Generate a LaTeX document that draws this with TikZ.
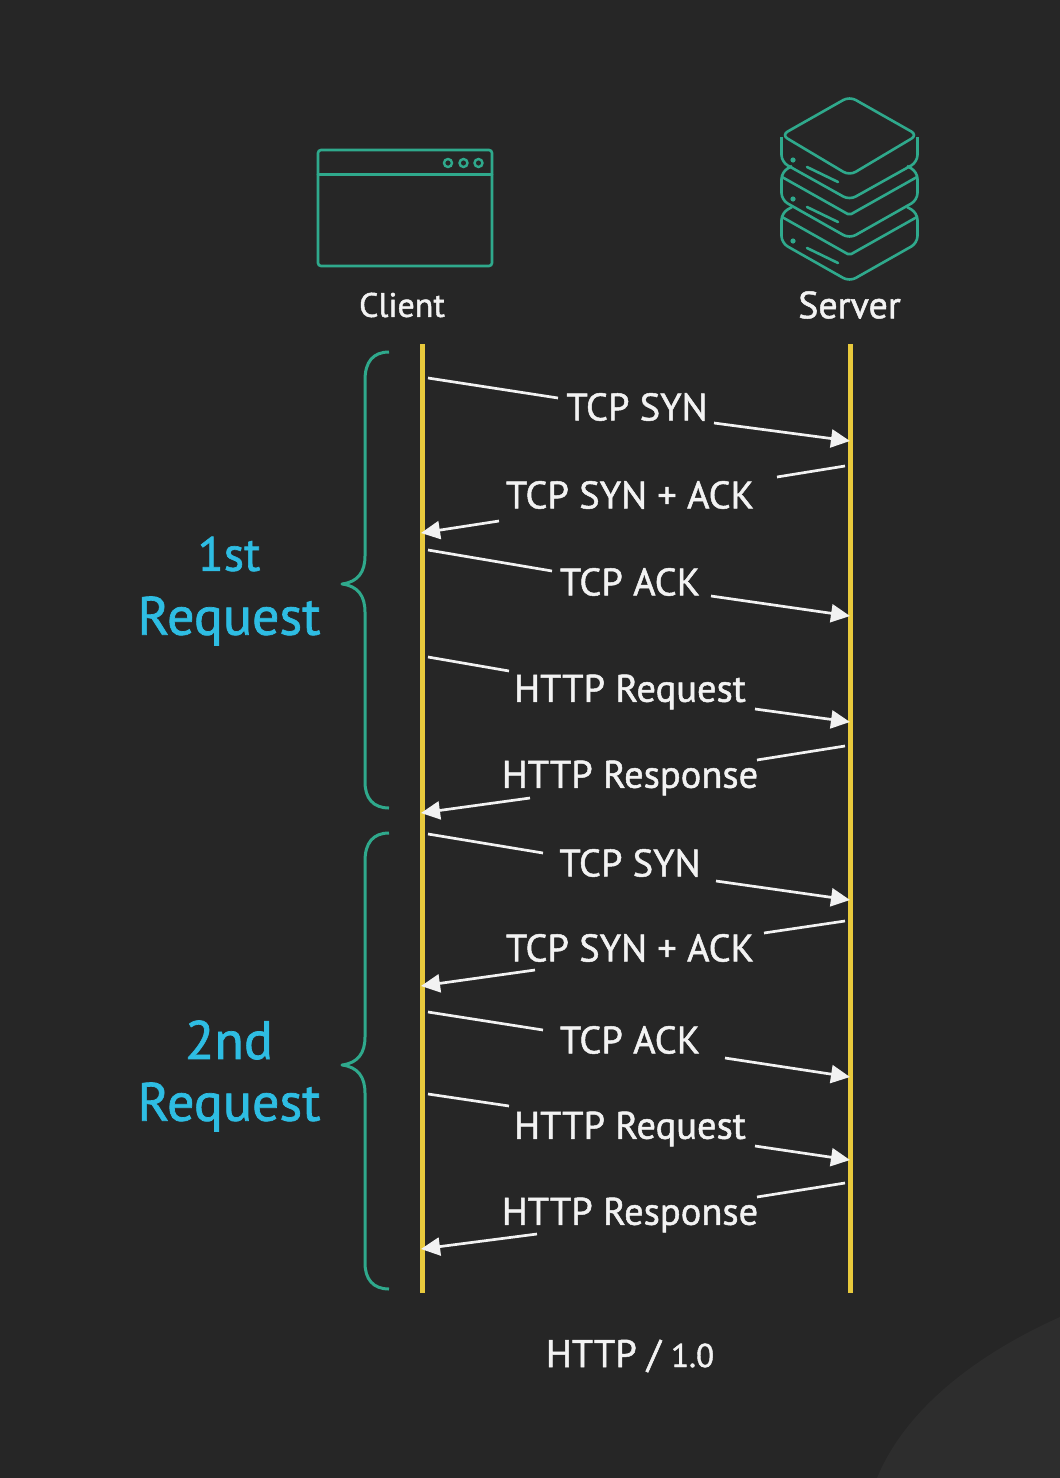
\documentclass[tikz,border=0pt]{standalone}
\usepackage{fontspec}
\setmainfont[FakeBold=1.3]{PT Sans}
\usetikzlibrary{arrows.meta}
\definecolor{bgc}{HTML}{262626}
\definecolor{blobc}{HTML}{2D2D2D}
\definecolor{teal1}{HTML}{2FA98C}
\definecolor{yellow1}{HTML}{E8C93C}
\definecolor{blue1}{HTML}{2EBDE3}
\definecolor{white1}{HTML}{F2F2F2}
\tikzset{
  icon/.style={draw=teal1,line width=2.6pt,rounded corners=3pt},
  iconfine/.style={draw=teal1,line width=2.6pt,line cap=round},
  lifeline/.style={draw=yellow1,line width=5pt},
  bracepath/.style={draw=teal1,line width=3pt,line join=round},
  msgline/.style={draw=white1,line width=2.7pt},
  msgarrow/.style={msgline,-{Triangle[length=19pt,width=18pt,fill=white1]}},
  msglabel/.style={text=white1,font=\fontsize{38.5}{38.5}\selectfont,inner sep=0pt},
  actor/.style={text=white1,font=\fontsize{34}{34}\selectfont,inner sep=0pt},
  reqlabel/.style={text=blue1,font=\fontsize{54}{54}\selectfont,inner sep=0pt},
}
\newcommand{\msgpair}[7]{%
  \node[msglabel] (l#1) at (#3) {#2};
  \coordinate (a#1) at (#4);
  \coordinate (b#1) at (#5);
  \coordinate (c#1) at (#6);
  \coordinate (d#1) at (#7);
  \draw[msgline] (a#1) -- (b#1);
  \draw[msgarrow] (c#1) -- (d#1);
}
\begin{document}
\begin{tikzpicture}[x=1pt,y=-1pt]
\useasboundingbox (0,0) rectangle (1060,1478);
\fill[bgc] (0,0) rectangle (1060,1478);
\fill[blobc] (877,1478) .. controls (905,1410) and (975,1355) .. (1060,1317) -- (1060,1478) -- cycle;

% client window
\draw[icon] (318,150) rectangle (492,266);
\draw[iconfine] (318,174.5) -- (492,174.5);
\draw[draw=teal1,line width=2.4pt] (448,163) circle (4pt) (463.5,163) circle (4pt) (478.5,163) circle (4pt);

% server stack
\begin{scope}[icon,rounded corners=7pt,fill=none]
\draw (849.5,96.5) -- (917.5,135) -- (849.5,175.5) -- (781.5,135) -- cycle;
\draw (781.5,137) -- (781.5,162) -- (849.5,200) -- (917.5,162) -- (917.5,137);
\draw (792,166) -- (781.5,172) -- (781.5,200) -- (849.5,238.5) -- (917.5,200) -- (917.5,172) -- (907,166);
\draw[rounded corners=2pt] (782,177) -- (849.5,215) -- (917,177);
\draw (792,207) -- (781.5,213) -- (781.5,243) -- (849.5,281.5) -- (917.5,243) -- (917.5,213) -- (907,207);
\draw[rounded corners=2pt] (782,217) -- (849.5,255) -- (917,217);
\end{scope}
\fill[teal1] (793,160) circle (2.6pt) (793,199) circle (2.6pt) (793,241) circle (2.6pt);
\draw[iconfine] (807,167) -- (838,182) (807,207) -- (838,222) (807,248) -- (838,263);

\node[actor] (client) at (402,305) {Client};
\node[actor,font=\fontsize{38}{38}\selectfont] (server) at (849.5,305) {Server};

% lifelines
\coordinate (ct) at (422,344); \coordinate (cb) at (422,1293);
\coordinate (st) at (850,344); \coordinate (sb) at (850,1293);
\draw[lifeline] (ct) -- (cb);
\draw[lifeline] (st) -- (sb);

% braces
\draw[bracepath] (389,352) .. controls (373,352) and (365,362) .. (365,380) -- (365,556) .. controls (365,572) and (358,582) .. (342,584) .. controls (358,586) and (365,596) .. (365,612) -- (365,782) .. controls (365,798) and (373,808) .. (389,808);
\draw[bracepath] (389,833) .. controls (373,833) and (365,843) .. (365,861) -- (365,1037) .. controls (365,1053) and (358,1063) .. (342,1065) .. controls (358,1067) and (365,1077) .. (365,1093) -- (365,1263) .. controls (365,1279) and (373,1289) .. (389,1289);

\node[reqlabel,font=\fontsize{48}{48}\selectfont] (r1a) at (229,554) {1st};
\node[reqlabel] (r1b) at (229,621) {Request};
\node[reqlabel] (r2a) at (229,1040) {2nd};
\node[reqlabel] (r2b) at (229,1107) {Request};

% messages
\msgpair{1}{TCP SYN}{637,407}{428,378}{558,398}{714,423}{850,441}
\msgpair{2}{TCP SYN + ACK}{630,495}{845,466}{777,477}{499,521}{421,533}
\msgpair{3}{TCP ACK}{630,582}{428,550}{552,571}{711,596}{850,616}
\msgpair{4}{HTTP Request}{630,692}{428,657}{509,671}{755,709}{850,722}
\msgpair{5}{HTTP Response}{630,778}{845,746}{757,760}{530,798}{421,813}
\msgpair{6}{TCP SYN}{630,863}{428,834}{543,853}{716,881}{850,900}
\msgpair{7}{TCP SYN + ACK}{630,948}{845,921}{764,933}{535,970}{421,986}
\msgpair{8}{TCP ACK}{630,1040}{428,1012}{543,1030}{725,1058}{850,1077}
\msgpair{9}{HTTP Request}{630,1129}{428,1094}{509,1106}{755,1146}{850,1160}
\msgpair{10}{HTTP Response}{630,1215}{845,1183}{757,1197}{537,1234}{421,1249}

\node[msglabel] (title) at (630,1356) {HTTP / {\fontsize{33}{33}\selectfont 1.0}};
\end{tikzpicture}
\end{document}
